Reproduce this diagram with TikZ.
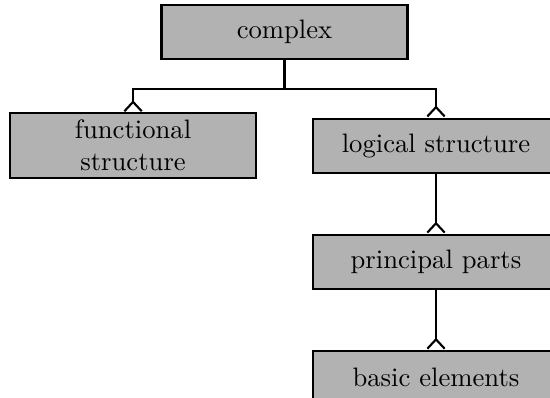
\documentclass[tikz,border=0pt]{standalone}
\usetikzlibrary{positioning, arrows.meta, calc}

\begin{document}
\begin{tikzpicture}[
    >={Straight Barb[reversed, length=3.5pt, width=6.5pt]},
    node distance=22.5pt,
    entity/.style={rectangle, draw, thick, fill=black!30, text width=86pt, align=center, minimum width=92.25pt, minimum height=20.25pt, inner sep=2.5pt},
    link/.style={thick}
]
\useasboundingbox (0,0) rectangle (206.25pt,-149.25pt);

% Top
\node[entity] (complex) at (106.7pt,-12pt) {complex};

% Second row
\node[entity] (functional) at (49.9pt,-54.6pt) {functional\\structure};
\node[entity] (logical) at (163.5pt,-54.6pt) {logical structure};

% Chain below logical structure
\node[entity, below=of logical] (principal) {principal parts};
\node[entity, below=of principal] (basic) {basic elements};

% Paths
\coordinate (split) at ($(complex.south)+(0,-11pt)$);
\draw[link] (complex.south) -- (split);
\draw[link, ->] (split) -| (functional.north);
\draw[link, ->] (split) -| (logical.north);
\draw[link, ->] (logical) -- (principal);
\draw[link, ->] (principal) -- (basic);

\end{tikzpicture}
\end{document}
